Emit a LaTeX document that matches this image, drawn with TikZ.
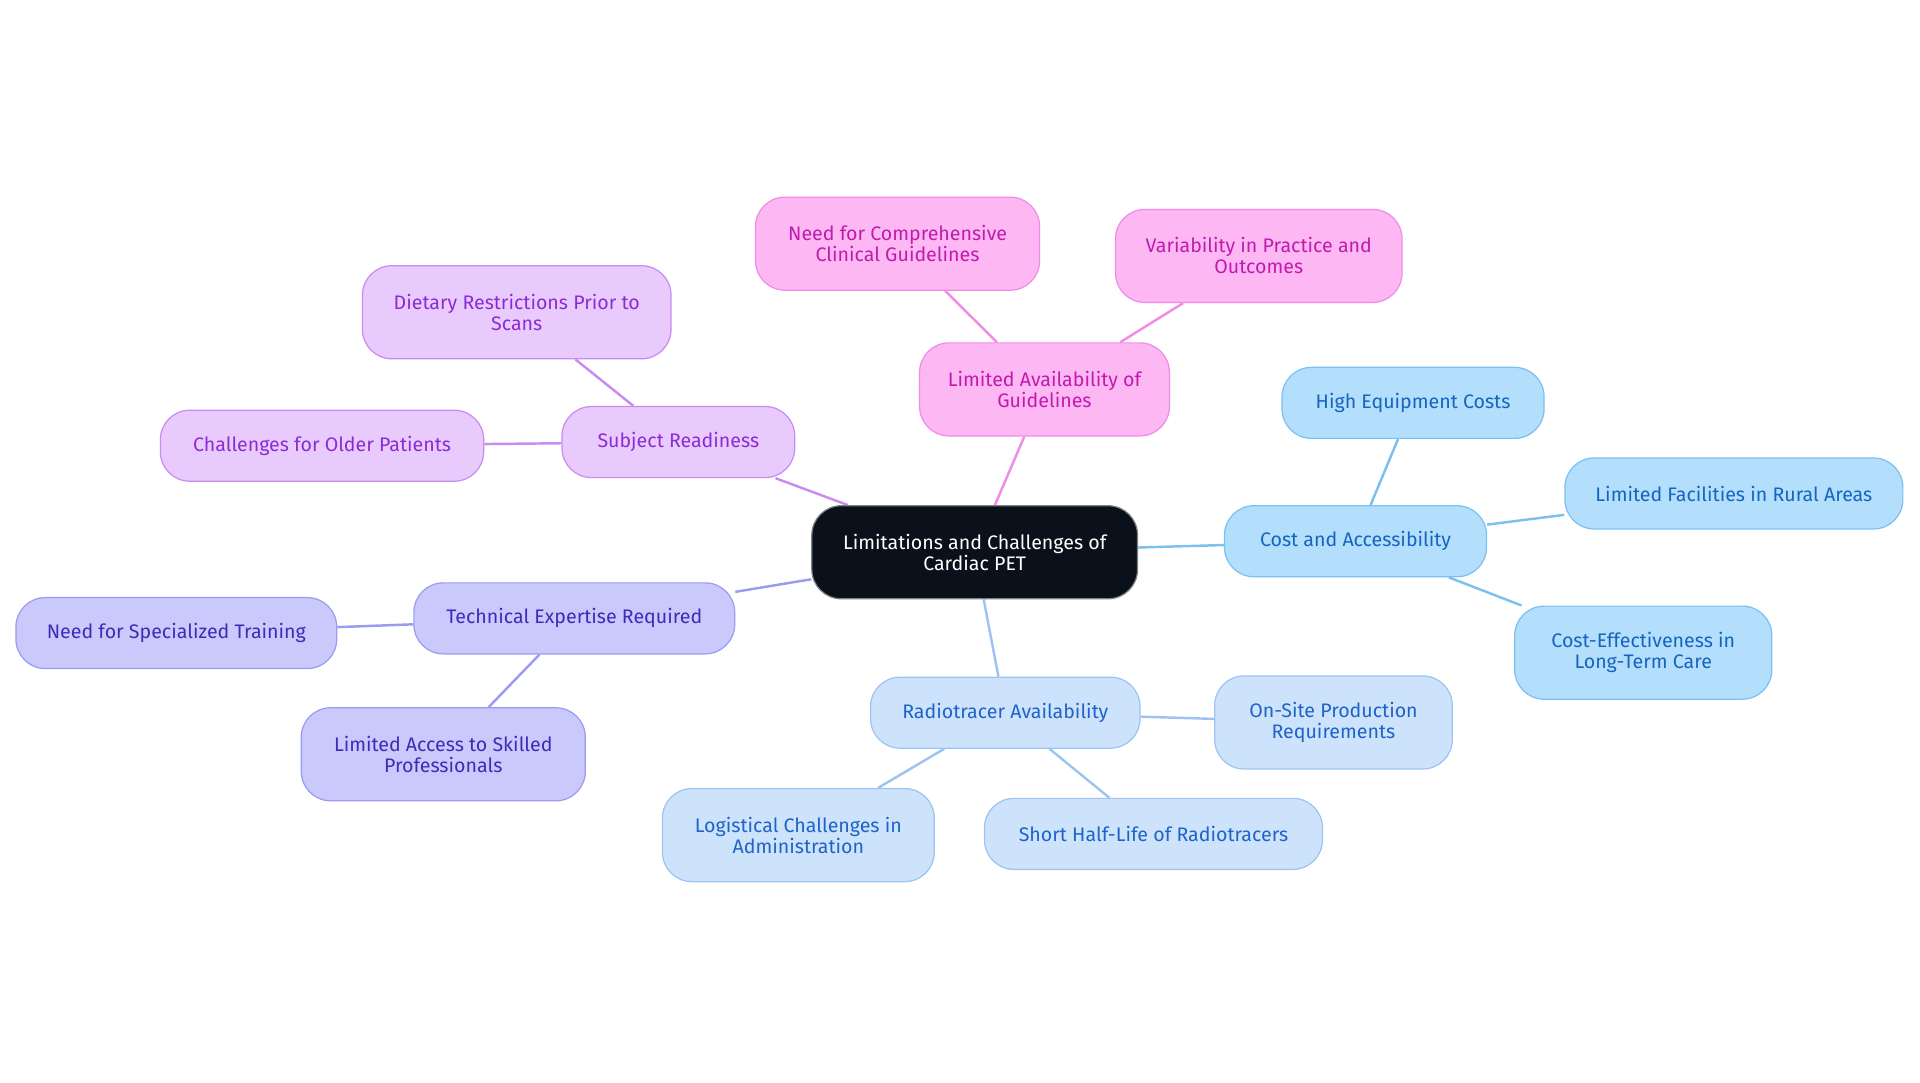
\documentclass[tikz,border=0pt]{standalone}
\usepackage{fontspec}
\setmainfont{Fira Sans}
\usetikzlibrary{backgrounds}
\definecolor{pkF}{HTML}{FDB8F4}\definecolor{pkD}{HTML}{F08BE6}\definecolor{pkT}{HTML}{C21AAE}
\definecolor{puF}{HTML}{E8CBFC}\definecolor{puD}{HTML}{C98BF0}\definecolor{puT}{HTML}{8B2BD6}
\definecolor{inF}{HTML}{C9C9FC}\definecolor{inD}{HTML}{9B9BF0}\definecolor{inT}{HTML}{3A2DB8}
\definecolor{blF}{HTML}{B3DEFC}\definecolor{blD}{HTML}{7CC0F0}\definecolor{blT}{HTML}{1565C0}
\definecolor{lbF}{HTML}{CDE3FB}\definecolor{lbD}{HTML}{9DC4F0}\definecolor{lbT}{HTML}{1E63C8}
\definecolor{ctr}{HTML}{0B111A}
\begin{document}
\begin{tikzpicture}[x=0.5pt,y=-0.5pt,
 box/.style={rounded corners=12pt,inner sep=0pt,align=center,font=\fontsize{8}{8.6}\selectfont,line width=0.5pt},
 bx/.style n args={4}{box,minimum width=#1*0.5pt,minimum height=#2*0.5pt,fill=#3F,draw=#3D,text=#3T},
 ln/.style={line width=1pt,draw=#1D}]
\path[use as bounding box] (0,0) rectangle (1568,884);
\node[box,minimum width=133pt,minimum height=38pt,fill=ctr,draw=gray,text=white] (c) at (796,451) {Limitations and Challenges of\\Cardiac PET};
\node[bx={204}{76}{pk}{}] (g) at (853,318) {Limited Availability of\\Guidelines};
\node[bx={232}{76}{pk}{}] (g1) at (733,199) {Need for Comprehensive\\Clinical Guidelines};
\node[bx={234}{76}{pk}{}] (g2) at (1028,209) {Variability in Practice and\\Outcomes};
\node[bx={190}{58}{pu}{}] (s) at (554,361) {Subject Readiness};
\node[bx={252}{76}{pu}{}] (s1) at (422,255) {Dietary Restrictions Prior to\\Scans};
\node[bx={264}{58}{pu}{}] (s2) at (263,364) {Challenges for Older Patients};
\node[bx={262}{58}{in}{}] (t) at (469,505) {Technical Expertise Required};
\node[bx={262}{58}{in}{}] (t1) at (144,517) {Need for Specialized Training};
\node[bx={232}{76}{in}{}] (t2) at (362,616) {Limited Access to Skilled\\Professionals};
\node[bx={214}{58}{bl}{}] (a) at (1107,442) {Cost and Accessibility};
\node[bx={214}{58}{bl}{}] (a1) at (1154,329) {High Equipment Costs};
\node[bx={276}{58}{bl}{}] (a2) at (1416,403) {Limited Facilities in Rural Areas};
\node[bx={210}{76}{bl}{}] (a3) at (1342,533) {Cost-Effectiveness in\\Long-Term Care};
\node[bx={220}{58}{lb}{}] (r) at (821,582) {Radiotracer Availability};
\node[bx={194}{76}{lb}{}] (r1) at (1089,590) {On-Site Production\\Requirements};
\node[bx={276}{58}{lb}{}] (r2) at (942,681) {Short Half-Life of Radiotracers};
\node[bx={222}{76}{lb}{}] (r3) at (652,682) {Logistical Challenges in\\Administration};
\begin{scope}[on background layer]
\draw[ln=pk] (c)--(g); \draw[ln=pk] (g)--(g1); \draw[ln=pk] (g)--(g2);
\draw[ln=pu] (c)--(s); \draw[ln=pu] (s)--(s1); \draw[ln=pu] (s)--(s2);
\draw[ln=in] (c)--(t); \draw[ln=in] (t)--(t1); \draw[ln=in] (t)--(t2);
\draw[ln=bl] (c)--(a); \draw[ln=bl] (a)--(a1); \draw[ln=bl] (a)--(a2); \draw[ln=bl] (a)--(a3);
\draw[ln=lb] (c)--(r); \draw[ln=lb] (r)--(r1); \draw[ln=lb] (r)--(r2); \draw[ln=lb] (r)--(r3);
\end{scope}
\end{tikzpicture}
\end{document}
